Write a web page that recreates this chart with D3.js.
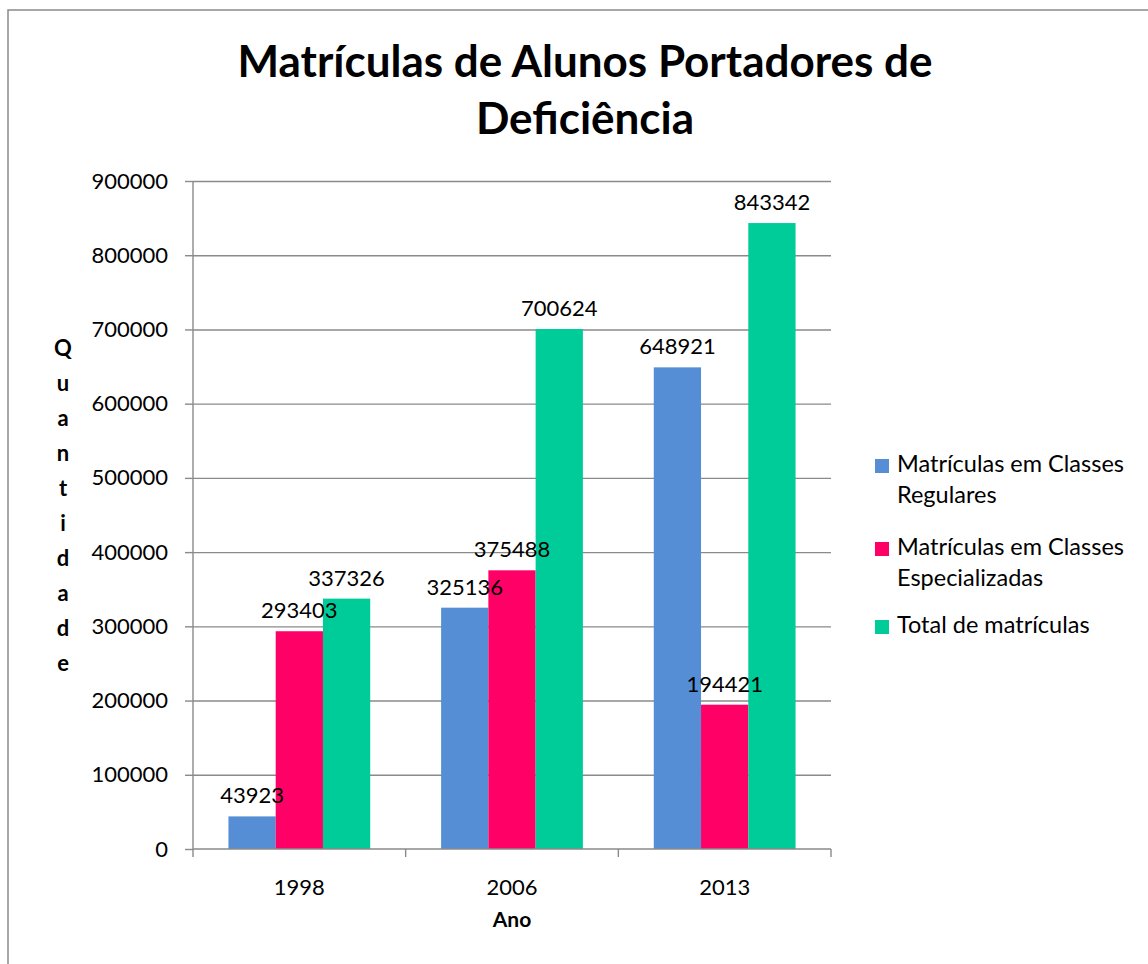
<!DOCTYPE html>
<html lang="pt">

<head>
  <script src="https://d3js.org/d3.v7.min.js"></script>
  <meta charset="UTF-8">
  <title>Matrículas</title>
  <style>
    body { margin: 0; background: #fff; }
    text { font-family: Lato, "Open Sans", sans-serif; fill: #000; }
    .gridlines .domain { display: none; }
    .gridlines line { stroke: #8a8a8a; stroke-width: 1.4; }
    .axis path, .axis line { stroke: #8a8a8a; stroke-width: 1.4; }
  </style>
</head>

<body>
  <svg id="chart" width="1148" height="964"></svg>
  <script>
    // data
    const years = ["1998", "2006", "2013"];
    const seriesNames = [
      "Matrículas em Classes Regulares",
      "Matrículas em Classes Especializadas",
      "Total de matrículas"
    ];
    const regulares = [43923, 325136, 648921];
    const especializadas = [293403, 375488, 194421];
    const totais = [337326, 700624, 843342];
    const yTicks = [0, 100000, 200000, 300000, 400000, 500000, 600000, 700000, 800000, 900000];
    const legendLines = [["Matrículas em Classes", "Regulares"], ["Matrículas em Classes", "Especializadas"], ["Total de matrículas"]];
    const colors = ["#558ed5", "#ff0066", "#00cc99"];

    const values = [regulares, especializadas, totais];

    const svg = d3.select("#chart");
    const plot = { left: 193, right: 831, top: 181, bottom: 849 };

    // outer chart border
    svg.append("rect")
      .attr("x", 8).attr("y", 10)
      .attr("width", 1160).attr("height", 980)
      .attr("fill", "none").attr("stroke", "#8a8a8a").attr("stroke-width", 1.5);

    // title
    const title = svg.append("text")
      .attr("text-anchor", "middle")
      .style("font-size", "44px").style("font-weight", "bold");
    title.append("tspan").attr("x", 585).attr("y", 77).text("Matrículas de Alunos Portadores de");
    title.append("tspan").attr("x", 585).attr("y", 134).text("Deficiência");

    const y = d3.scaleLinear().domain([0, 900000]).range([plot.bottom, plot.top]);
    const x0 = d3.scaleBand().domain(years).range([plot.left, plot.right]);
    const x1 = d3.scaleBand().domain(d3.range(seriesNames.length))
      .range([0, x0.bandwidth()]).paddingInner(0).paddingOuter(0.75);
    const color = d3.scaleOrdinal().domain(d3.range(seriesNames.length)).range(colors);

    // gridlines
    svg.append("g")
      .attr("class", "gridlines")
      .attr("transform", `translate(${plot.left},0)`)
      .call(d3.axisLeft(y).tickValues(yTicks.slice(1)).tickSize(-(plot.right - plot.left)).tickFormat(""));

    // y axis
    const yAxis = svg.append("g")
      .attr("class", "axis")
      .attr("transform", `translate(${plot.left},0)`)
      .call(d3.axisLeft(y).tickValues(yTicks).tickSize(8).tickPadding(17).tickFormat(d3.format("d")));
    yAxis.select(".domain").attr("d", `M0,${plot.top}V${plot.bottom}`);
    yAxis.selectAll("text").style("font-size", "22px").style("font-family", "Lato, sans-serif").attr("fill", "#000");

    // flat list of bars
    const bars = [];
    years.forEach((yr, i) => values.forEach((vals, s) => bars.push({ year: yr, s: s, v: vals[i] })));
    const barX = d => x0(d.year) + x1(d.s);

    svg.append("g").selectAll("rect")
      .data(bars)
      .join("rect")
      .attr("x", barX)
      .attr("width", x1.bandwidth())
      .attr("y", d => y(d.v))
      .attr("height", d => y(0) - y(d.v))
      .attr("fill", d => color(d.s));

    // data labels on top of all bars
    svg.append("g").selectAll("text")
      .data(bars)
      .join("text")
      .attr("x", d => barX(d) + x1.bandwidth() / 2)
      .attr("y", d => y(d.v) - 13)
      .attr("text-anchor", "middle")
      .style("font-size", "22px")
      .text(d => d.v);

    // x axis
    const xAxis = svg.append("g")
      .attr("class", "axis")
      .attr("transform", `translate(0,${plot.bottom})`)
      .call(d3.axisBottom(x0).tickSize(0).tickPadding(30));
    xAxis.select(".domain").attr("d", `M${plot.left},0H${plot.right}`);
    xAxis.selectAll("text").style("font-size", "22px").style("font-family", "Lato, sans-serif").attr("fill", "#000");
    xAxis.selectAll("line.sep")
      .data(years.map(d => x0(d)).concat([plot.right]))
      .join("line")
      .attr("class", "sep")
      .attr("x1", d => d).attr("x2", d => d)
      .attr("y1", 0).attr("y2", 8);

    svg.append("text")
      .attr("x", (plot.left + plot.right) / 2)
      .attr("y", 927)
      .attr("text-anchor", "middle")
      .style("font-size", "21px").style("font-weight", "bold")
      .text("Ano");

    // y axis title, stacked letters
    svg.append("g").selectAll("text")
      .data("Quantidade".split(""))
      .join("text")
      .attr("x", 63)
      .attr("y", (d, i) => 350 + i * 35)
      .attr("text-anchor", "middle")
      .attr("dominant-baseline", "middle")
      .style("font-size", "22px").style("font-weight", "bold")
      .text(d => d);

    // legend
    const legendTop = [466, 549, 627];
    const legend = svg.append("g").selectAll("g")
      .data(seriesNames)
      .join("g")
      .attr("transform", (d, i) => `translate(875,${legendTop[i]})`);
    legend.append("rect")
      .attr("x", 0).attr("y", -7)
      .attr("width", 14).attr("height", 14)
      .attr("fill", (d, i) => color(i));
    legend.append("text")
      .style("font-size", "23.5px")
      .selectAll("tspan")
      .data((d, i) => legendLines[i])
      .join("tspan")
      .attr("x", 22)
      .attr("y", (d, j) => j * 31)
      .attr("dominant-baseline", "middle")
      .text(d => d);
  </script>
</body>

</html>
